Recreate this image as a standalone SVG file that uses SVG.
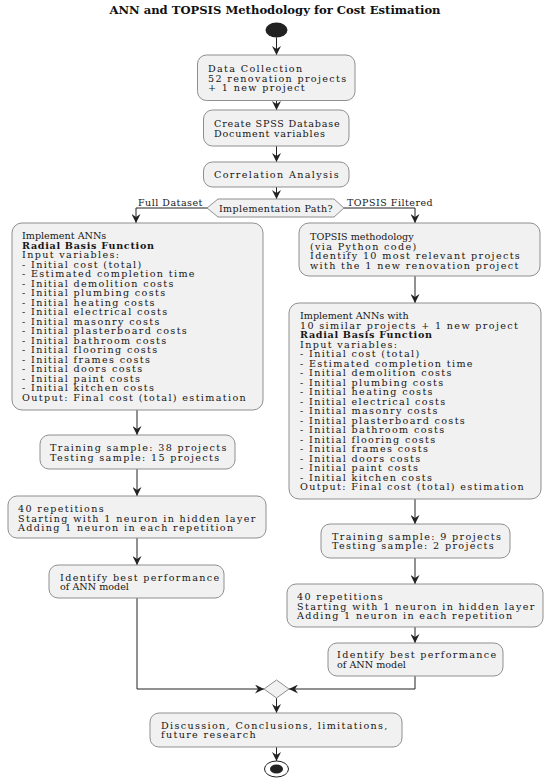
<svg xmlns="http://www.w3.org/2000/svg" width="550" height="784" viewBox="0 0 550 784">
<style>
.box{fill:#f1f1f1;stroke:#8f8f8f;stroke-width:1}
.t{font-family:"DejaVu Serif",serif;font-size:9.6px;letter-spacing:1.35px;fill:#161616}
.n{letter-spacing:0px}
.b{font-weight:bold;letter-spacing:0.7px}
.s{letter-spacing:0.8px}
.lbl{font-family:"DejaVu Serif",serif;font-size:9.5px;letter-spacing:0.5px;fill:#161616}
.ttl{font-family:"DejaVu Serif",serif;font-size:11.6px;font-weight:bold;fill:#111}
.c{fill:none;stroke:#222;stroke-width:1}
</style>
<defs>
<marker id="ah" markerUnits="userSpaceOnUse" markerWidth="10" markerHeight="9" refX="9" refY="4.5" orient="auto">
<path d="M0,0 L9,4.5 L0,9 L3,4.5 z" fill="#222"/>
</marker>
</defs>
<text class="ttl" x="275" y="14" text-anchor="middle">ANN and TOPSIS Methodology for Cost Estimation</text>

<g id="start"><ellipse cx="276.5" cy="30" rx="11" ry="7.5" fill="#222"/></g>

<g id="connectors">
<line class="c" x1="276.5" y1="37.5" x2="276.5" y2="55" marker-end="url(#ah)"/>
<line class="c" x1="276.5" y1="100.5" x2="276.5" y2="110" marker-end="url(#ah)"/>
<line class="c" x1="276.5" y1="146" x2="276.5" y2="162" marker-end="url(#ah)"/>
<line class="c" x1="276.5" y1="187" x2="276.5" y2="199" marker-end="url(#ah)"/>
<polyline class="c" points="207,208 136,208 136,223" marker-end="url(#ah)"/>
<polyline class="c" points="344,208 415,208 415,223" marker-end="url(#ah)"/>
<line class="c" x1="415" y1="276" x2="415" y2="303" marker-end="url(#ah)"/>
<line class="c" x1="415" y1="499" x2="415" y2="524" marker-end="url(#ah)"/>
<line class="c" x1="415" y1="558" x2="415" y2="584" marker-end="url(#ah)"/>
<line class="c" x1="415" y1="627" x2="415" y2="643" marker-end="url(#ah)"/>
<polyline class="c" points="415,676 415,689 289,689" marker-end="url(#ah)"/>
<line class="c" x1="137" y1="410" x2="137" y2="435" marker-end="url(#ah)"/>
<line class="c" x1="137" y1="469" x2="137" y2="496" marker-end="url(#ah)"/>
<line class="c" x1="137" y1="538" x2="137" y2="565" marker-end="url(#ah)"/>
<polyline class="c" points="137,598 137,689 264,689" marker-end="url(#ah)"/>
<line class="c" x1="276.5" y1="698" x2="276.5" y2="713" marker-end="url(#ah)"/>
<line class="c" x1="276.5" y1="747" x2="276.5" y2="761" marker-end="url(#ah)"/>
<text class="lbl" x="138" y="205.5">Full Dataset</text>
<text class="lbl" x="347" y="205.5">TOPSIS Filtered</text>
</g>

<g id="data-collection">
<rect class="box" x="197.5" y="55" width="157.5" height="45.5" rx="9"/>
<text class="t" x="208" y="72"><tspan x="208">Data Collection</tspan><tspan x="208" dy="9.5">52 renovation projects</tspan><tspan x="208" dy="9.5">+ 1 new project</tspan></text>
</g>

<g id="spss">
<rect class="box" x="203.5" y="110" width="145.5" height="36" rx="9"/>
<text class="t s" x="214" y="127"><tspan x="214">Create SPSS Database</tspan><tspan x="214" dy="9.5">Document variables</tspan></text>
</g>

<g id="correlation">
<rect class="box" x="203.5" y="162" width="145.5" height="25" rx="9"/>
<text class="t" x="214" y="178">Correlation Analysis</text>
</g>

<g id="decision">
<polygon class="box" points="207,208 218,199 334,199 344,208 334,217 218,217"/>
<text class="lbl" x="276" y="211.5" text-anchor="middle" style="letter-spacing:0.4px">Implementation Path?</text>
</g>

<g id="impl-full">
<rect class="box" x="12" y="223" width="251" height="187" rx="10"/>
<text class="t" x="22" y="239"><tspan x="22" class="n">Implement ANNs</tspan><tspan x="22" dy="9.5" class="b">Radial Basis Function</tspan><tspan x="22" dy="9.5">Input variables:</tspan><tspan x="22" dy="9.5">- Initial cost (total)</tspan><tspan x="22" dy="9.5">- Estimated completion time</tspan><tspan x="22" dy="9.5">- Initial demolition costs</tspan><tspan x="22" dy="9.5">- Initial plumbing costs</tspan><tspan x="22" dy="9.5">- Initial heating costs</tspan><tspan x="22" dy="9.5">- Initial electrical costs</tspan><tspan x="22" dy="9.5">- Initial masonry costs</tspan><tspan x="22" dy="9.5">- Initial plasterboard costs</tspan><tspan x="22" dy="9.5">- Initial bathroom costs</tspan><tspan x="22" dy="9.5">- Initial flooring costs</tspan><tspan x="22" dy="9.5">- Initial frames costs</tspan><tspan x="22" dy="9.5">- Initial doors costs</tspan><tspan x="22" dy="9.5">- Initial paint costs</tspan><tspan x="22" dy="9.5">- Initial kitchen costs</tspan><tspan x="22" dy="9.5">Output: Final cost (total) estimation</tspan></text>
</g>

<g id="topsis">
<rect class="box" x="299" y="223" width="241" height="53" rx="10"/>
<text class="t" x="310" y="240"><tspan x="310" class="n">TOPSIS methodology</tspan><tspan x="310" dy="9.5">(via Python code)</tspan><tspan x="310" dy="9.5">Identify 10 most relevant projects</tspan><tspan x="310" dy="9.5">with the 1 new renovation project</tspan></text>
</g>

<g id="impl-topsis">
<rect class="box" x="289" y="303" width="252" height="196" rx="10"/>
<text class="t" x="300" y="319"><tspan x="300" class="n">Implement ANNs with</tspan><tspan x="300" dy="9.5">10 similar projects + 1 new project</tspan><tspan x="300" dy="9.5" class="b">Radial Basis Function</tspan><tspan x="300" dy="9.5">Input variables:</tspan><tspan x="300" dy="9.5">- Initial cost (total)</tspan><tspan x="300" dy="9.5">- Estimated completion time</tspan><tspan x="300" dy="9.5">- Initial demolition costs</tspan><tspan x="300" dy="9.5">- Initial plumbing costs</tspan><tspan x="300" dy="9.5">- Initial heating costs</tspan><tspan x="300" dy="9.5">- Initial electrical costs</tspan><tspan x="300" dy="9.5">- Initial masonry costs</tspan><tspan x="300" dy="9.5">- Initial plasterboard costs</tspan><tspan x="300" dy="9.5">- Initial bathroom costs</tspan><tspan x="300" dy="9.5">- Initial flooring costs</tspan><tspan x="300" dy="9.5">- Initial frames costs</tspan><tspan x="300" dy="9.5">- Initial doors costs</tspan><tspan x="300" dy="9.5">- Initial paint costs</tspan><tspan x="300" dy="9.5">- Initial kitchen costs</tspan><tspan x="300" dy="9.5">Output: Final cost (total) estimation</tspan></text>
</g>

<g id="train-full">
<rect class="box" x="40" y="435" width="195" height="34" rx="9"/>
<text class="t" x="50" y="451"><tspan x="50">Training sample: 38 projects</tspan><tspan x="50" dy="9.5">Testing sample: 15 projects</tspan></text>
</g>

<g id="reps-full">
<rect class="box" x="8" y="496" width="258" height="42" rx="9"/>
<text class="t" x="18" y="512"><tspan x="18">40 repetitions</tspan><tspan x="18" dy="9.5">Starting with 1 neuron in hidden layer</tspan><tspan x="18" dy="9.5">Adding 1 neuron in each repetition</tspan></text>
</g>

<g id="best-full">
<rect class="box" x="49" y="565" width="175" height="33" rx="9"/>
<text class="t" x="60" y="580.5"><tspan x="60">Identify best performance</tspan><tspan x="60" dy="9.5" class="n">of ANN model</tspan></text>
</g>

<g id="train-topsis">
<rect class="box" x="321" y="524" width="189" height="34" rx="9"/>
<text class="t" x="332" y="539.5"><tspan x="332">Training sample: 9 projects</tspan><tspan x="332" dy="9.5">Testing sample: 2 projects</tspan></text>
</g>

<g id="reps-topsis">
<rect class="box" x="287" y="584" width="256" height="43" rx="9"/>
<text class="t" x="297" y="600"><tspan x="297">40 repetitions</tspan><tspan x="297" dy="9.5">Starting with 1 neuron in hidden layer</tspan><tspan x="297" dy="9.5">Adding 1 neuron in each repetition</tspan></text>
</g>

<g id="best-topsis">
<rect class="box" x="328" y="643" width="175" height="33" rx="9"/>
<text class="t" x="337" y="658"><tspan x="337">Identify best performance</tspan><tspan x="337" dy="9.5" class="n">of ANN model</tspan></text>
</g>

<g id="merge">
<polygon class="box" points="264,689 276.5,680 289,689 276.5,698"/>
</g>

<g id="discussion">
<rect class="box" x="150" y="713" width="252" height="34" rx="9"/>
<text class="t" x="161" y="728.5"><tspan x="161">Discussion, Conclusions, limitations,</tspan><tspan x="161" dy="9.5">future research</tspan></text>
</g>

<g id="end">
<ellipse cx="276.5" cy="769" rx="12" ry="8" fill="none" stroke="#222" stroke-width="1"/>
<ellipse cx="276.5" cy="769" rx="6.5" ry="4.5" fill="#222"/>
</g>
</svg>
